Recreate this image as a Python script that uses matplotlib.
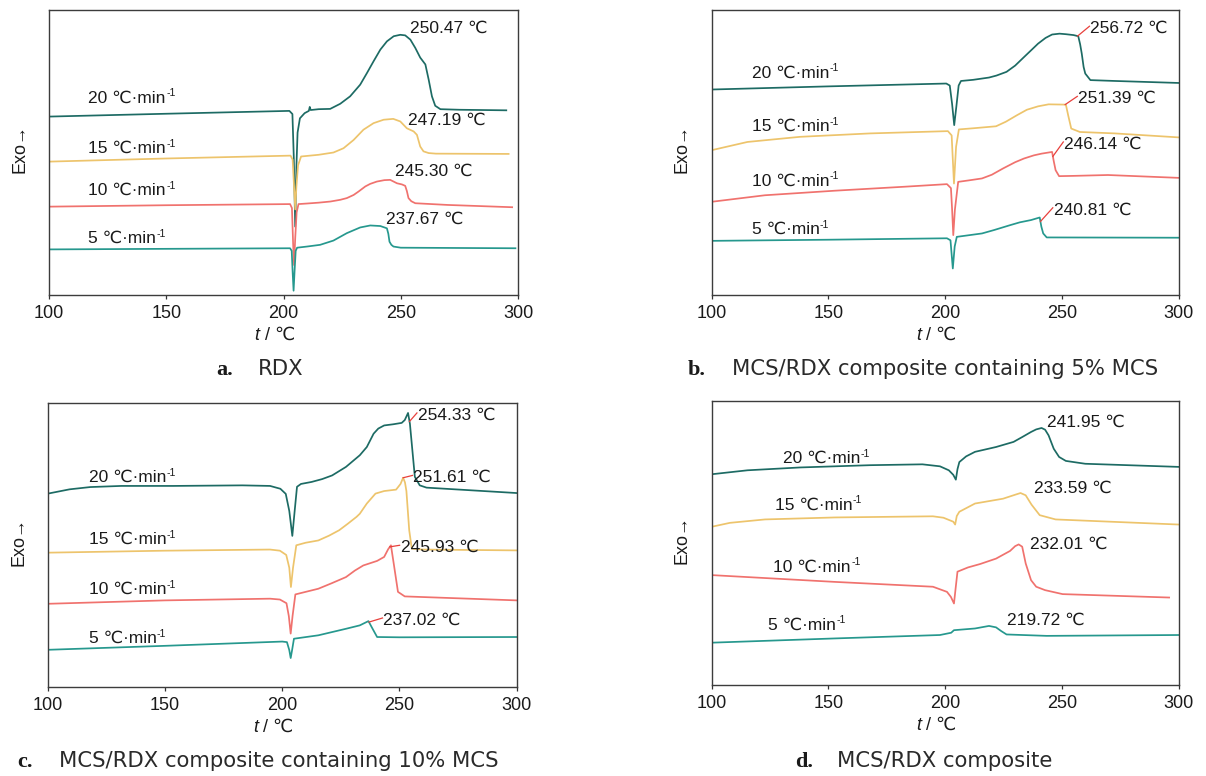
import numpy as np
import matplotlib
matplotlib.use("Agg")
import matplotlib.pyplot as plt

# ---------------- DATA (temperature in degC, heat-flow signal in arbitrary units) ----------------
RATES = [20, 15, 10, 5]
X_TICKS = [100, 150, 200, 250, 300]

# Panel a: RDX
A20_T = [100, 150, 202.5, 203.8, 204.4, 205.0, 205.5, 206.0, 207.0, 209.0, 210.8, 211.2, 211.6, 215, 219.9, 224.2, 228.4, 232.7, 235.6, 238.4, 241.3, 244.1, 247.0, 249.8, 251.9, 254.1, 256.2, 258.3, 260.5, 261.9, 263.3, 264.7, 266.9, 275, 295]
A20_Y = [62.6, 63.6, 64.6, 63.5, 48, 24.0, 45, 57, 62.0, 63.8, 64.6, 66.0, 64.9, 65.2, 65.3, 67.1, 69.7, 73.8, 77.9, 82.0, 86.1, 89.0, 90.8, 91.3, 91.1, 89.6, 86.7, 83.3, 80.9, 75.6, 69.7, 66.4, 65.2, 65.0, 64.8]
A15_T = [100, 150, 203.0, 203.9, 204.5, 205.0, 205.5, 206.2, 207.5, 215, 221.3, 225.6, 229.9, 234.1, 238.4, 242.7, 246.8, 249.8, 252.6, 255.5, 256.9, 258.3, 259.7, 261.9, 265, 296]
A15_Y = [46.8, 47.9, 48.9, 47.5, 38, 30, 38, 45.5, 48.6, 49.2, 50.0, 51.5, 54.4, 58.0, 60.3, 61.5, 61.8, 60.9, 58.5, 57.4, 56.2, 52.1, 50.4, 49.8, 49.6, 49.5]
A10_T = [100, 150, 202.8, 203.6, 204.1, 204.5, 205.0, 205.6, 206.4, 210, 215, 220, 224.2, 227, 229.9, 232, 234.9, 237, 239.8, 243, 245.5, 248.4, 250.5, 251.9, 252.6, 253.3, 254.5, 256.2, 270, 297.5]
A10_Y = [31.0, 31.5, 31.9, 30.5, 18, 10.5, 20, 29, 31.9, 32.1, 32.4, 32.8, 33.4, 34.0, 35.1, 36.3, 38.1, 39.0, 39.8, 40.3, 40.4, 39.2, 38.8, 38.3, 36.5, 34.0, 32.9, 32.2, 31.6, 30.8]
A5_T = [100, 150, 202.8, 203.5, 203.9, 204.3, 204.7, 205.2, 205.8, 210, 215.6, 221.3, 227.0, 232.7, 237.0, 241.3, 244.1, 244.7, 245.2, 246.0, 246.9, 250, 298.9]
A5_Y = [16.0, 16.2, 16.4, 15.5, 8, 1.5, 8, 15.5, 16.6, 17.0, 17.6, 19.1, 21.7, 23.7, 24.4, 24.2, 23.4, 21.5, 18.7, 17.6, 17.0, 16.6, 16.4]
A_PEAKS = [250.47, 247.19, 245.30, 237.67]

# Panel b: MCS/RDX composite containing 5% MCS
B20_T = [100, 150, 200.5, 202.0, 203.0, 203.9, 204.8, 205.8, 206.8, 212, 218.8, 222, 226.3, 230, 233.8, 237, 239.8, 243, 245.8, 249, 251.8, 255, 257.0, 257.8, 258.5, 259.3, 260.0, 262.2, 272.7, 300]
B20_Y = [72.1, 73.2, 74.2, 73.5, 67, 59.6, 66, 73.5, 75.1, 75.5, 76.3, 77.0, 78.3, 80.5, 83.5, 86.0, 88.2, 90.2, 91.4, 91.7, 91.5, 91.2, 90.8, 88, 84.7, 80, 77.7, 75.4, 75.1, 74.4]
B15_T = [100, 115.4, 137.9, 167.9, 201.2, 202.8, 203.8, 204.7, 205.9, 212, 221.8, 226, 230.8, 235, 239.8, 244.3, 251.7, 252.7, 254, 257.7, 272.7, 300]
B15_Y = [50.8, 53.7, 55.5, 56.7, 57.5, 56, 39.1, 52, 58.1, 58.5, 59.2, 60.8, 63.1, 65.0, 66.2, 66.9, 66.8, 63, 58.4, 57.2, 56.7, 55.3]
B10_T = [100, 122.9, 152.9, 182.8, 200.8, 202.5, 203.0, 203.5, 204.2, 205.6, 210, 215.8, 220, 224.8, 230, 233.8, 238, 241.3, 245.8, 246.5, 247.3, 248.8, 255, 269.7, 300]
B10_Y = [32.7, 35.0, 36.6, 38.0, 38.9, 37.5, 30, 21.0, 30, 39.7, 40.2, 40.9, 42.2, 44.4, 46.6, 47.9, 49.0, 49.6, 50.2, 47, 43.8, 41.7, 41.8, 42.1, 41.1]
B5_T = [100, 150, 200.8, 202.3, 203.3, 204.1, 205.0, 215.8, 221, 227.8, 232, 236.8, 240.5, 241.2, 242, 243.5, 300]
B5_Y = [19.0, 19.4, 19.9, 19.2, 9.3, 17, 20.4, 21.6, 22.8, 24.5, 25.5, 26.3, 27.2, 24, 21.6, 20.2, 20.1]
B_PEAKS = [256.72, 251.39, 246.14, 240.81]

# Panel c: MCS/RDX composite containing 10% MCS
C20_T = [100, 109.2, 118.0, 131.3, 153.4, 183.0, 194.8, 199.2, 201.5, 203.0, 204.3, 205.3, 206.3, 208, 212.5, 217, 221.3, 227.2, 233.1, 236.1, 239, 241, 243.5, 247.3, 251, 252.3, 253.7, 254.5, 256.6, 258.7, 261.6, 300]
C20_Y = [68.1, 69.6, 70.4, 70.8, 70.8, 71.0, 70.8, 69.8, 68, 62, 53.2, 62, 70.5, 71.5, 72.2, 73.2, 74.5, 77.5, 81.6, 84.5, 89.2, 91.0, 92.1, 92.5, 93.0, 94.0, 96.5, 92.7, 74.0, 71.0, 70.2, 68.3]
C15_T = [100, 150, 194.8, 199, 201.7, 203.0, 203.7, 204.6, 206.0, 210, 215.4, 220, 224.3, 228, 231.7, 233.1, 236.1, 239.8, 243.5, 248.6, 250.5, 251.6, 252.4, 253, 254.2, 255.3, 260, 300]
C15_Y = [47.3, 48.0, 48.4, 48, 46.5, 42, 35.2, 42, 49.9, 50.8, 51.6, 53.3, 55.2, 57.5, 59.9, 61.0, 64.6, 68.1, 69.0, 69.5, 71.5, 73.7, 72, 69, 55.2, 48.7, 48.4, 48.1]
C10_T = [100, 150, 194.8, 199, 201.8, 202.8, 203.6, 204.4, 205.6, 210, 215.4, 221, 227.2, 231, 234.6, 240.5, 243.5, 245.2, 246.4, 247.6, 249.4, 252.3, 300]
C10_Y = [29.3, 30.5, 31.1, 30.8, 29.5, 25, 18.8, 25, 32.6, 33.5, 34.6, 36.5, 38.7, 41, 42.8, 44.4, 45.8, 48.5, 49.9, 43.4, 33.5, 31.9, 30.5]
C5_T = [100, 150, 200, 202, 203.0, 203.6, 204.2, 205, 215.4, 227.2, 233.1, 236.8, 238.3, 240.5, 250, 300]
C5_Y = [13.1, 14.5, 16.0, 15.8, 13, 10.2, 13, 17.0, 18.2, 20.5, 21.7, 23.2, 20.9, 17.6, 17.5, 17.6]
C_PEAKS = [254.33, 251.61, 245.93, 237.02]

# Panel d: MCS/RDX composite
D20_T = [100, 115.4, 137.9, 167.9, 190.3, 197.8, 201.6, 203.5, 204.6, 205.3, 206.1, 209, 212.8, 221.8, 229.3, 233.0, 236.8, 239.0, 241.3, 242.8, 244.3, 246.5, 248.8, 251.7, 260, 300]
D20_Y = [74.2, 75.6, 76.6, 77.4, 77.7, 77.0, 75.6, 74, 72.3, 76, 78.5, 80.5, 82.1, 83.8, 85.6, 87.3, 89.1, 90.0, 90.5, 89.9, 87.9, 83.2, 80.3, 78.9, 77.9, 76.8]
D15_T = [100, 107.9, 122.9, 152.9, 194.8, 199.3, 203.5, 204.3, 205.0, 206.1, 212.8, 224.8, 230, 232.3, 234.5, 237, 240.5, 247.3, 300]
D15_Y = [55.7, 57.1, 58.3, 59.0, 59.4, 58.9, 57.5, 56.5, 59.5, 61.0, 63.9, 65.6, 67.0, 67.6, 66.8, 63.5, 59.8, 58.3, 56.5]
D10_T = [100, 152.9, 194.8, 200.8, 202.5, 203.8, 204.5, 205.3, 209.8, 215, 221.8, 227.8, 230.0, 231.5, 233.0, 234.5, 236.8, 239.0, 242.8, 250.3, 295.9]
D10_Y = [38.7, 36.3, 34.6, 32.8, 31, 28.7, 34, 39.9, 41.4, 42.6, 44.5, 47.2, 48.9, 49.5, 48.7, 42.8, 36.9, 34.6, 33.4, 32.0, 30.8]
D5_T = [100, 152.9, 197.8, 202.6, 203.8, 212.8, 218.8, 221.8, 224, 226.3, 243.5, 300]
D5_Y = [14.9, 16.4, 17.6, 18.4, 19.3, 19.9, 20.8, 20.3, 19, 17.8, 17.3, 17.6]
D_PEAKS = [241.95, 233.59, 232.01, 219.72]

CAPTIONS = [("a.", "RDX"),
            ("b.", "MCS/RDX composite containing 5% MCS"),
            ("c.", "MCS/RDX composite containing 10% MCS"),
            ("d.", "MCS/RDX composite")]

# ---------------- STYLE / LAYOUT ----------------
W, H = 1206, 776
COLORS = ['#1d6b64', '#edc46c', '#f0726e', '#26988e']
FONT = ['Liberation Sans', 'DejaVu Sans']
FS = 12.5

PANELS = [
    dict(rect=(49, 10, 518, 295),
         curves=[(A20_T, A20_Y), (A15_T, A15_Y), (A10_T, A10_Y), (A5_T, A5_Y)],
         peaks=A_PEAKS, leader=False,
         rate_pos=[(116.8, 69.1), (116.8, 51.5), (116.8, 36.7), (116.8, 19.9)],
         peak_pos=[(254.0, 93.7), (253.3, 61.2), (247.4, 43.3), (243.8, 26.7)],
         cap=(216, 258, 375)),
    dict(rect=(711.5, 10, 1178.7, 295),
         curves=[(B20_T, B20_Y), (B15_T, B15_Y), (B10_T, B10_Y), (B5_T, B5_Y)],
         peaks=B_PEAKS, leader=True,
         rate_pos=[(117.2, 77.9), (117.2, 59.2), (117.2, 40.0), (117.2, 23.0)],
         peak_pos=[(262.2, 93.5), (257.0, 68.9), (251.0, 52.9), (246.5, 29.8)],
         cap=(688, 732, 375)),
    dict(rect=(48, 403, 516.5, 687),
         curves=[(C20_T, C20_Y), (C15_T, C15_Y), (C10_T, C10_Y), (C5_T, C5_Y)],
         peaks=C_PEAKS, leader=True,
         rate_pos=[(117.3, 73.7), (117.3, 51.9), (117.3, 34.3), (117.3, 17.0)],
         peak_pos=[(257.9, 95.7), (256.0, 73.7), (250.5, 49.1), (243.2, 23.5)],
         cap=(17, 59, 767)),
    dict(rect=(711.5, 401, 1178.7, 685),
         curves=[(D20_T, D20_Y), (D15_T, D15_Y), (D10_T, D10_Y), (D5_T, D5_Y)],
         peaks=D_PEAKS, leader=False,
         rate_pos=[(130.4, 79.7), (127.1, 63.4), (126.4, 41.6), (124.1, 21.2)],
         peak_pos=[(243.5, 92.6), (238.0, 69.2), (236.5, 49.6), (226.6, 22.9)],
         cap=(795, 837, 767)),
]

fig = plt.figure(figsize=(W / 100, H / 100), dpi=100)

for p, (lab, cap) in zip(PANELS, CAPTIONS):
    l, t, r, b = p['rect']
    ax = fig.add_axes([l / W, 1 - b / H, (r - l) / W, (b - t) / H])
    for (T, Y), col in zip(p['curves'], COLORS):
        ax.plot(T, Y, color=col, lw=1.25, solid_joinstyle='round')
    ax.set_xlim(100, 300)
    ax.set_ylim(0, 100)
    ax.set_xticks(X_TICKS)
    ax.set_yticks([])
    ax.tick_params(axis='x', direction='out', length=3, width=0.9, pad=4,
                   labelsize=FS + 0.5, colors='#333333', labelcolor='#1a1a1a')
    for lbl in ax.get_xticklabels():
        lbl.set_family(FONT)
    for s in ax.spines.values():
        s.set_color('#3c3c3c')
        s.set_linewidth(1.0)

    # heating-rate labels
    for rate, (x, y) in zip(RATES, p['rate_pos']):
        tt = ax.text(x, y, f'{rate} ℃·min', ha='left', va='center',
                     fontsize=FS, family=FONT, color='#1a1a1a')
        ax.annotate('-1', xy=(1.0, 1.0), xycoords=tt, xytext=(0.3, 1.5),
                    textcoords='offset points', ha='left', va='top',
                    fontsize=7.5, family=FONT, color='#1a1a1a')

    # peak-temperature labels
    for pk, (T, Y), (x, y) in zip(p['peaks'], p['curves'], p['peak_pos']):
        ax.text(x, y, f'{pk:.2f} ℃', ha='left', va='center',
                fontsize=FS, family=FONT, color='#1a1a1a')
        if p['leader']:
            py = float(np.interp(pk, T, Y))
            ax.plot([pk, x - 0.4], [py, y + 0.8], color='#e8403c', lw=0.9)

    # axis labels
    cx = (l + r) / 2
    yl = (b + 40)
    t1 = fig.text((cx - 29) / W, 1 - yl / H, 't', style='italic', ha='left',
                  va='center', fontsize=FS + 0.5, family=FONT, color='#1a1a1a')
    ax.annotate(' / ℃', xy=(1.0, 0.5), xycoords=t1, ha='left', va='center',
                fontsize=FS + 0.5, family=FONT, color='#1a1a1a', annotation_clip=False)
    fig.text((l - 29) / W, 1 - ((t + b) / 2 - 4) / H, 'Exo→', rotation=90,
             ha='center', va='center', fontsize=FS + 0.5, family=FONT, color='#1a1a1a')

    # caption
    xa, xt, yb = p['cap']
    fig.text(xa / W, 1 - yb / H, lab, ha='left', va='baseline', fontsize=16,
             family='Liberation Serif', weight='bold', color='#1a1a1a')
    fig.text(xt / W, 1 - yb / H, cap, ha='left', va='baseline', fontsize=15.2,
             family='DejaVu Sans', color='#2a2a2a')

fig.savefig('out.png', dpi=100)
